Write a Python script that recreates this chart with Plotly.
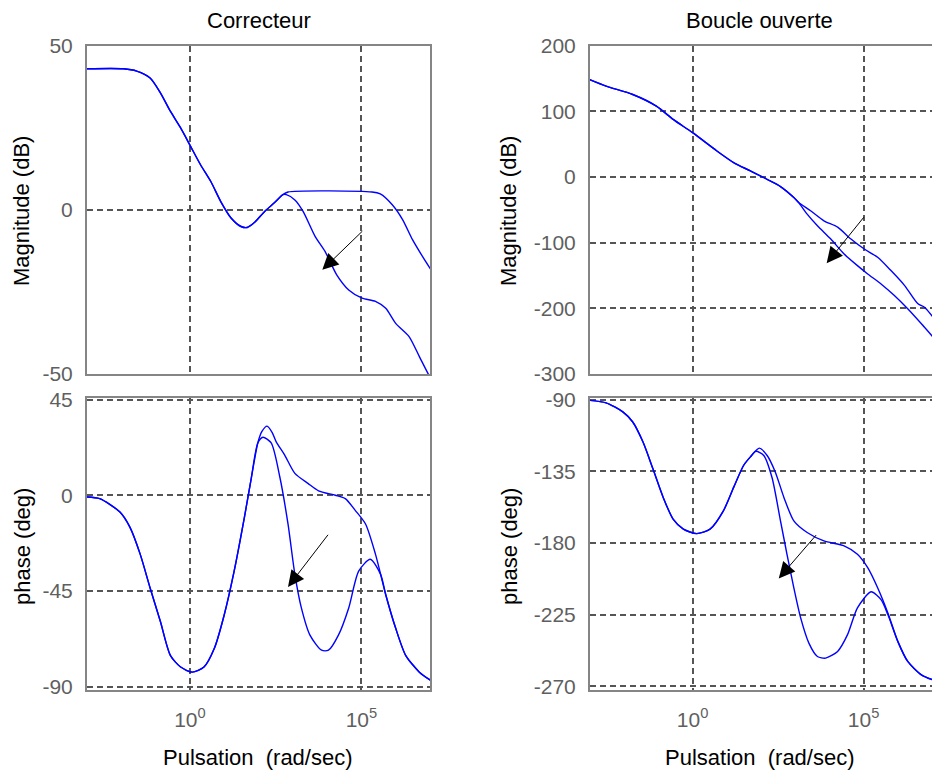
import plotly.graph_objects as go

# ---------------- data (log10 of pulsation, values) ----------------
# Correcteur : magnitude (dB)
cor_mag_shared_lw = [-3.02, -1.94, -1.55, -1.16, -0.86, -0.57, -0.27, 0.02, 0.31, 0.61, 0.9, 1.2, 1.49, 1.67, 1.88, 2.18, 2.47, 2.71]
cor_mag_shared_db = [42.9, 42.9, 42.2, 40.1, 35.6, 30.0, 24.9, 19.3, 13.7, 8.6, 2.5, -2.5, -5.1, -5.4, -3.9, -0.5, 2.2, 4.6]
cor_mag_a_lw = [2.86, 5.31, 5.55, 5.9, 6.2, 6.49, 6.78, 7.03]
cor_mag_a_db = [5.4, 5.4, 4.8, 1.5, -3.0, -9.1, -14.2, -18.3]
cor_mag_b_lw = [2.81, 3.06, 3.3, 3.65, 3.94, 4.28, 4.63, 5.02, 5.41, 5.71, 6.0, 6.39, 6.69, 6.94, 7.03]
cor_mag_b_db = [4.6, 3.0, -0.5, -8.1, -12.7, -19.8, -24.4, -26.9, -27.9, -30.0, -34.6, -38.6, -44.7, -49.8, -51.5]

# Boucle ouverte : magnitude (dB)
bo_mag_shared_lw = [-3.02, -2.53, -1.75, -1.06, -0.57, 0.0, 0.71, 1.2, 1.69, 2.27, 2.57, 2.96, 3.1]
bo_mag_shared_db = [148.2, 138.1, 125.4, 107.7, 87.5, 67.3, 39.5, 21.8, 9.1, -6.1, -14.7, -31.4, -39.0]
bo_mag_a_lw = [3.45, 3.84, 4.24, 4.63, 5.02, 5.41, 5.8, 6.2, 6.59, 6.78, 7.03]
bo_mag_a_db = [-51.6, -66.8, -76.5, -94.6, -109.8, -122.4, -142.6, -165.4, -193.2, -198.3, -213.5]
bo_mag_b_lw = [3.35, 3.65, 4.04, 4.43, 4.82, 5.12, 5.51, 5.9, 6.29, 6.69, 7.03]
bo_mag_b_db = [-56.7, -74.4, -94.6, -117.3, -135.1, -147.7, -162.9, -180.6, -200.8, -223.6, -243.8]

# Correcteur : phase (deg)
cor_ph_shared_lw = [-3.02, -2.63, -2.04, -1.75, -1.45, -1.16, -0.86, -0.57, -0.27, 0.07, 0.41, 0.71, 1.0, 1.29, 1.59, 1.78, 1.98]
cor_ph_shared_deg = [-0.8, -1.6, -7.9, -15.0, -27.7, -43.6, -59.4, -75.3, -80.8, -83.2, -80.8, -72.1, -56.3, -35.7, -10.3, 7.1, 24.6]
cor_ph_a_lw = [2.1, 2.25, 2.4, 2.52, 2.76, 3.06, 3.45, 3.75, 4.24, 4.53, 4.82, 5.12, 5.41, 5.71, 6.0, 6.29, 6.69, 7.03]
cor_ph_a_deg = [30.0, 32.5, 29.5, 25.0, 19.0, 10.3, 5.5, 2.1, 0.0, -1.6, -7.1, -13.5, -27.7, -46.8, -62.6, -75.3, -83.2, -87.2]
cor_ph_b_lw = [2.13, 2.37, 2.62, 2.86, 3.06, 3.25, 3.5, 3.84, 4.04, 4.33, 4.63, 4.92, 5.26, 5.56, 5.71, 6.0, 6.29, 6.69, 7.03]
cor_ph_b_deg = [27.3, 24.6, 8.7, -13.5, -37.2, -53.0, -65.8, -72.9, -72.9, -65.8, -53.0, -35.7, -30.1, -37.2, -46.8, -62.6, -75.3, -83.2, -87.2]

# Boucle ouverte : phase (deg)
bo_ph_shared_lw = [-3.02, -2.53, -2.04, -1.75, -1.45, -1.16, -0.86, -0.57, -0.27, 0.12, 0.51, 0.9, 1.2, 1.49, 1.69]
bo_ph_shared_deg = [-90.5, -92.1, -97.8, -104.1, -116.7, -133.5, -151.4, -165.0, -171.3, -174.1, -171.3, -159.8, -145.1, -131.4, -126.0]
bo_ph_a_lw = [1.95, 2.18, 2.42, 2.67, 2.96, 3.35, 3.84, 4.43, 4.82, 5.12, 5.41, 5.71, 6.0, 6.29, 6.69, 7.03]
bo_ph_a_deg = [-120.5, -125.1, -135.6, -151.4, -166.1, -173.4, -178.7, -181.8, -187.1, -195.5, -208.1, -223.9, -241.7, -254.3, -262.7, -265.9]
bo_ph_b_lw = [1.85, 2.08, 2.32, 2.57, 2.76, 2.96, 3.16, 3.4, 3.65, 3.89, 4.24, 4.53, 4.82, 5.22, 5.51, 5.71, 6.0, 6.29, 6.69, 7.03]
bo_ph_b_deg = [-122.5, -125.1, -138.8, -166.1, -187.1, -208.1, -227.0, -242.8, -251.2, -252.2, -248.0, -237.5, -220.7, -210.6, -215.5, -224.9, -241.7, -254.3, -262.7, -265.9]

# arrows: (head_lw, head_val, tail_lw, tail_val)
arrow_cor_mag = (3.86, -18.3, 5.07, -6.1)
arrow_bo_mag = (3.92, -131.5, 5.04, -59.2)
arrow_cor_ph = (2.86, -43.1, 4.06, -17.9)
arrow_bo_ph = (2.52, -202.2, 3.65, -174.1)

titles = ["Correcteur", "Boucle ouverte"]
x_tickvals = [1, 1e5]
x_ticktext = ["10<sup>0</sup>", "10<sup>5</sup>"]
cor_mag_ticks = [-50, 0, 50]
bo_mag_ticks = [-300, -200, -100, 0, 100, 200]
cor_ph_ticks = [-90, -45, 0, 45]
bo_ph_ticks = [-270, -225, -180, -135, -90]

# ---------------- figure ----------------
W, H = 932, 773
BLUE = "#0000ff"
FONT = "Liberation Sans, Arial, sans-serif"
TICKC = "#5f5f5f"

fig = go.Figure()


def add_series(shared_lw, shared_v, br_lw, br_v, xa, ya):
    lw = shared_lw + br_lw
    vals = shared_v + br_v
    fig.add_trace(go.Scatter(
        x=[10 ** v for v in lw], y=vals, mode="lines",
        line=dict(color=BLUE, width=1.4, shape="spline", smoothing=0.7),
        xaxis=xa, yaxis=ya, showlegend=False, hoverinfo="skip"))


add_series(cor_mag_shared_lw, cor_mag_shared_db, cor_mag_a_lw, cor_mag_a_db, "x", "y")
add_series(cor_mag_shared_lw, cor_mag_shared_db, cor_mag_b_lw, cor_mag_b_db, "x", "y")
add_series(bo_mag_shared_lw, bo_mag_shared_db, bo_mag_a_lw, bo_mag_a_db, "x2", "y2")
add_series(bo_mag_shared_lw, bo_mag_shared_db, bo_mag_b_lw, bo_mag_b_db, "x2", "y2")
add_series(cor_ph_shared_lw, cor_ph_shared_deg, cor_ph_a_lw, cor_ph_a_deg, "x3", "y3")
add_series(cor_ph_shared_lw, cor_ph_shared_deg, cor_ph_b_lw, cor_ph_b_deg, "x3", "y3")
add_series(bo_ph_shared_lw, bo_ph_shared_deg, bo_ph_a_lw, bo_ph_a_deg, "x4", "y4")
add_series(bo_ph_shared_lw, bo_ph_shared_deg, bo_ph_b_lw, bo_ph_b_deg, "x4", "y4")


def px_x(p):
    return p / W


def px_y(p):
    return 1 - p / H


left_dom = [px_x(87), px_x(430)]
right_dom = [px_x(590), 1.0]
top_dom = [px_y(374), px_y(45.5)]
bot_dom = [px_y(690), px_y(398.3)]

common_axis = dict(
    showline=True, linecolor="#858585", linewidth=2,
    showgrid=True, gridcolor="#555555", gridwidth=1.5, griddash="6px,4px",
    zeroline=False, ticks="", automargin=False,
    tickfont=dict(family=FONT, size=21, color=TICKC),
)


def xaxis(dom, anchor, labels):
    d = dict(common_axis)
    d.update(type="log", range=[-3, 7], domain=dom, anchor=anchor, mirror=True,
             tickvals=x_tickvals, ticktext=x_ticktext, showticklabels=labels,
             ticklabelstandoff=10)
    return d


def yaxis(dom, anchor, rng, ticks, mirror):
    d = dict(common_axis)
    d.update(range=rng, domain=dom, anchor=anchor, mirror=mirror,
             tickvals=ticks, ticktext=[str(t) for t in ticks], ticklabelstandoff=8)
    return d


fig.update_layout(
    width=W, height=H, autosize=False,
    margin=dict(l=0, r=0, t=0, b=0, pad=0, autoexpand=False),
    paper_bgcolor="white", plot_bgcolor="white",
    font=dict(family=FONT, size=21, color="black"),
    xaxis=xaxis(left_dom, "y", False),
    yaxis=yaxis(top_dom, "x", [-50, 50], cor_mag_ticks, True),
    xaxis2=xaxis(right_dom, "y2", False),
    yaxis2=yaxis(top_dom, "x2", [-300, 200], bo_mag_ticks, False),
    xaxis3=xaxis(left_dom, "y3", True),
    yaxis3=yaxis(bot_dom, "x3", [-91.6, 45.6], cor_ph_ticks, True),
    xaxis4=xaxis(right_dom, "y4", True),
    yaxis4=yaxis(bot_dom, "x4", [-272.2, -89.25], bo_ph_ticks, False),
)

annots = []
for (hx, hy, tx, ty), xr, yr in [(arrow_cor_mag, "x", "y"), (arrow_bo_mag, "x2", "y2"),
                                 (arrow_cor_ph, "x3", "y3"), (arrow_bo_ph, "x4", "y4")]:
    annots.append(dict(x=hx, y=hy, ax=tx, ay=ty, xref=xr, yref=yr, axref=xr, ayref=yr,
                       text="", showarrow=True, arrowhead=2, arrowsize=3.2,
                       arrowwidth=1, arrowcolor="black", standoff=0, startstandoff=0))

txt = dict(family=FONT, size=22, color="black")
# titles
annots.append(dict(x=px_x(258.5), y=px_y(20), xref="paper", yref="paper", text=titles[0],
                   showarrow=False, font=txt, xanchor="center", yanchor="middle"))
annots.append(dict(x=px_x(759), y=px_y(20), xref="paper", yref="paper", text=titles[1],
                   showarrow=False, font=txt, xanchor="center", yanchor="middle"))
# y axis labels
for xc, yc, t in [(22, 211, "Magnitude (dB)"), (509, 211, "Magnitude (dB)"),
                  (22, 547, "phase (deg)"), (509, 547, "phase (deg)")]:
    annots.append(dict(x=px_x(xc), y=px_y(yc), xref="paper", yref="paper", text=t,
                       textangle=-90, showarrow=False, font=txt,
                       xanchor="center", yanchor="middle"))
# x axis labels
for xc in (258, 760):
    annots.append(dict(x=px_x(xc), y=px_y(757), xref="paper", yref="paper",
                       text="Pulsation  (rad/sec)", showarrow=False, font=txt,
                       xanchor="center", yanchor="middle"))

fig.update_layout(annotations=annots)
fig.write_html(
    "out.html",
    config={"displayModeBar": False},
    post_script="document.body.style.margin='0';document.body.style.overflow='hidden';",
)
